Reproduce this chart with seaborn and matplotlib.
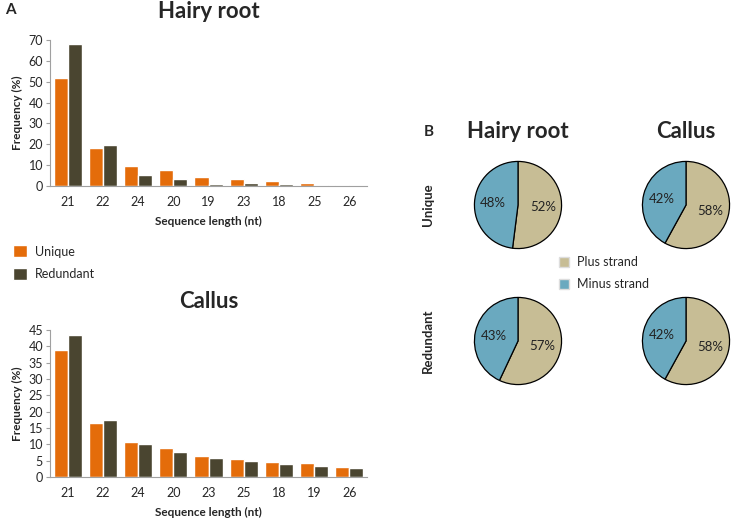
import pandas as pd
import matplotlib
matplotlib.use("Agg")
import matplotlib.pyplot as plt
from matplotlib.patches import Patch
import seaborn as sns

# bar data, categories are in the order shown on each chart
hairy_len = ["21", "22", "24", "20", "19", "23", "18", "25", "26"]
hairy_unique = [52.0, 18.0, 9.7, 7.8, 4.5, 3.5, 2.3, 1.2, 0.7]
hairy_redundant = [68.0, 19.7, 5.3, 3.5, 1.0, 1.3, 0.8, 0.3, 0.1]

callus_len = ["21", "22", "24", "20", "23", "25", "18", "19", "26"]
callus_unique = [39.0, 16.4, 10.8, 9.0, 6.5, 5.5, 4.7, 4.4, 3.2]
callus_redundant = [43.5, 17.4, 10.0, 7.6, 5.7, 4.9, 4.0, 3.5, 2.8]

# pie data: plus strand / minus strand
pie_titles = ["Hairy root", "Callus"]
pie_rows = ["Unique", "Redundant"]
plus_strand = [[52, 58], [57, 58]]
minus_strand = [[48, 42], [43, 42]]

orange = "#E46C0A"
olive = "#4A4530"
tan = "#C7BD95"
blue = "#6AA9BF"

sns.set_style("white")
plt.rcParams["font.family"] = ["Lato", "DejaVu Sans"]

fig = plt.figure(figsize=(7.36, 5.2), dpi=100)
W, H = 736, 520


def px_axes(left, top, right, bottom):
    return fig.add_axes([left / W, 1 - bottom / H, (right - left) / W, (bottom - top) / H])


def bar_panel(ax, lengths, uniq, redund, title, ymax, step):
    df = pd.DataFrame({
        "length": lengths * 2,
        "freq": uniq + redund,
        "type": ["Unique"] * len(lengths) + ["Redundant"] * len(lengths),
    })
    sns.barplot(data=df, x="length", y="freq", hue="type",
                palette=[orange, olive], width=0.8, ax=ax, saturation=1)
    ax.set_xlim(-0.5, len(lengths) - 0.5)
    ax.set_ylim(0, ymax)
    ax.set_yticks(range(0, ymax + 1, step))
    ax.set_title(title, fontsize=16, fontweight="bold", pad=16)
    ax.set_xlabel("Sequence length (nt)", fontsize=8.5, fontweight="bold", labelpad=6)
    ax.set_ylabel("Frequency (%)", fontsize=8.5, fontweight="bold", labelpad=4)
    ax.tick_params(axis="y", left=True, length=3, width=0.8, color="#A0A0A0", labelsize=9, pad=2)
    ax.tick_params(axis="x", length=0, labelsize=9, pad=7)
    sns.despine(ax=ax)
    for s in ["left", "bottom"]:
        ax.spines[s].set_color("#A0A0A0")
        ax.spines[s].set_linewidth(0.8)
    handles, labels = ax.get_legend_handles_labels()
    ax.get_legend().remove()
    return handles, labels


ax1 = px_axes(50, 40, 367, 186)
handles, labels = bar_panel(ax1, hairy_len, hairy_unique, hairy_redundant, "Hairy root", 70, 10)
ax2 = px_axes(50, 330, 367, 477)
bar_panel(ax2, callus_len, callus_unique, callus_redundant, "Callus", 45, 5)

fig.legend(handles, labels, loc="upper left", bbox_to_anchor=(2 / W, 1 - 234 / H),
           frameon=False, fontsize=9, handlelength=1.1, handleheight=1.1,
           labelspacing=0.8, handletextpad=0.6)

fig.text(10 / W, 1 - 10 / H, "A", fontsize=11, fontweight="bold", va="center", ha="center")
fig.text(429 / W, 1 - 132 / H, "B", fontsize=11, fontweight="bold", va="center", ha="center")

centers_x = [518, 686]
centers_y = [205, 341]
r = 44
for i in range(2):
    for j in range(2):
        cx, cy = centers_x[j], centers_y[i]
        ax = px_axes(cx - r, cy - r, cx + r, cy + r)
        ax.pie([plus_strand[i][j], minus_strand[i][j]], colors=[tan, blue],
               startangle=90, counterclock=False, autopct="%d%%", pctdistance=0.57,
               wedgeprops=dict(edgecolor="black", linewidth=0.9),
               textprops=dict(fontsize=9.5, color="#222222"))
        ax.set_xlim(-1.01, 1.01)
        ax.set_ylim(-1.01, 1.01)
        ax.set_aspect("equal")

for j, t in enumerate(pie_titles):
    fig.text(centers_x[j] / W, 1 - 132 / H, t, fontsize=16, fontweight="bold",
             ha="center", va="center")
for i, t in enumerate(pie_rows):
    fig.text(428 / W, 1 - centers_y[i] / H, t, fontsize=9.5, fontweight="bold",
             rotation=90, ha="center", va="center")

pie_handles = [Patch(facecolor=tan, edgecolor="#DDDDDD", label="Plus strand"),
               Patch(facecolor=blue, edgecolor="#DDDDDD", label="Minus strand")]
fig.legend(handles=pie_handles, loc="upper left", bbox_to_anchor=(548 / W, 1 - 245 / H),
           frameon=False, fontsize=9, handlelength=0.8, handleheight=0.8,
           labelspacing=0.8, handletextpad=0.6)

fig.savefig("out.png", dpi=100)
